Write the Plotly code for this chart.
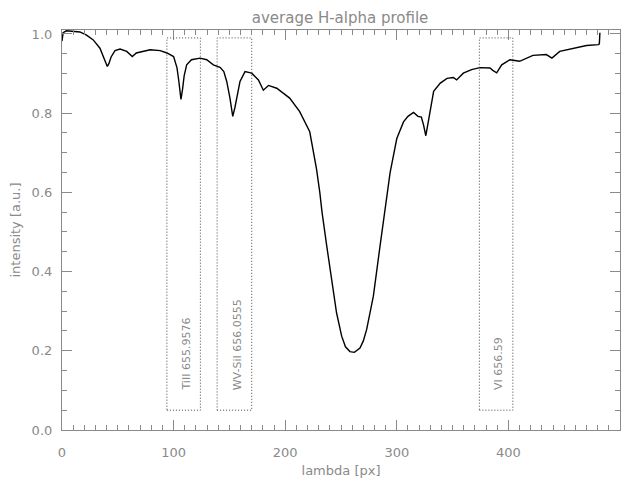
import plotly.graph_objects as go

# spectrum
lambda_px = [0, 1, 4, 10, 16, 22, 28, 34, 37.6, 40.6, 42, 44, 47.5, 52, 58, 63, 66.6, 72, 79, 88,
             94, 100, 103, 104.5, 106.6, 108, 109.5, 111.7, 116, 123.7, 129.7, 135.6, 141.6, 145,
             147.6, 150.5, 153, 155, 156.5, 159.5, 164, 170, 176, 180.4, 185, 192.4, 204, 213, 222,
             228, 231, 233, 237.2, 241.7, 246, 250.6, 254, 258, 262, 267, 270, 273, 279, 285, 289.4,
             294, 300, 306, 310, 315, 319, 322, 324, 326, 328, 330, 333, 339, 345, 350.6, 353.6,
             359.6, 367, 374.5, 383.5, 386, 389.5, 394, 401.4, 410, 422, 434, 439, 446, 458, 470,
             480.6, 481.5, 482]
intensity = [0.982, 1.003, 1.008, 1.007, 1.005, 0.997, 0.985, 0.964, 0.940, 0.918, 0.925, 0.942,
             0.958, 0.962, 0.956, 0.943, 0.952, 0.956, 0.960, 0.958,
             0.952, 0.943, 0.915, 0.885, 0.835, 0.860, 0.895, 0.922, 0.935, 0.939, 0.935, 0.922,
             0.916, 0.905, 0.880, 0.838, 0.792, 0.815, 0.838, 0.880, 0.905, 0.901, 0.884, 0.858,
             0.870, 0.863, 0.838, 0.804, 0.753, 0.660, 0.600, 0.550, 0.465, 0.381, 0.296, 0.237,
             0.210, 0.198, 0.196, 0.207, 0.225, 0.254, 0.338, 0.465, 0.550, 0.650, 0.736, 0.778,
             0.792, 0.802, 0.792, 0.790, 0.770, 0.743, 0.775, 0.812, 0.855, 0.876, 0.888, 0.890,
             0.884, 0.901, 0.910, 0.915, 0.914, 0.908, 0.902, 0.922, 0.935, 0.931, 0.946, 0.948,
             0.939, 0.956, 0.964, 0.971, 0.973, 0.975, 1.003]

# line-identification windows
box_x0 = [94, 139, 374]
box_x1 = [124, 170, 404]
box_y0 = 0.05
box_y1 = 0.99
box_labels = ["TiII 655.9576", "WV-SiI 656.0555", "VI 656.59"]
label_y = 0.095

x_ticks = [0, 100, 200, 300, 400, 500]
y_ticks = [0.0, 0.2, 0.4, 0.6, 0.8, 1.0]

GRAY = "#8a8a8a"
FONT = "DejaVu Sans"

fig = go.Figure()
fig.add_trace(go.Scatter(x=lambda_px, y=intensity, mode="lines",
                         line=dict(color="black", width=1.4), showlegend=False))

for x0, x1, lab in zip(box_x0, box_x1, box_labels):
    fig.add_shape(type="rect", xref="x", yref="y", x0=x0, x1=x1, y0=box_y0, y1=box_y1,
                  line=dict(color="#444444", width=1, dash="1px,2px"))
    fig.add_annotation(x=(x0 + x1) / 2, y=label_y, xref="x", yref="y", text=lab,
                       textangle=-90, showarrow=False, yanchor="bottom", xanchor="center",
                       xshift=3, font=dict(family=FONT, size=11, color=GRAY))

axis_common = dict(showgrid=False, zeroline=False, showline=True, linecolor=GRAY, linewidth=1.2,
                   ticks="inside", tickcolor=GRAY, tickwidth=1, mirror="allticks",
                   tickfont=dict(family=FONT, size=13, color=GRAY))

fig.update_xaxes(range=[0, 500], tickvals=x_ticks, ticklen=10,
                 minor=dict(ticks="inside", ticklen=5, dtick=10, tickcolor=GRAY),
                 title=dict(text="lambda [px]", font=dict(family=FONT, size=13, color=GRAY), standoff=7),
                 ticklabelstandoff=10, **axis_common)
fig.update_yaxes(range=[0, 1.01], tickvals=y_ticks, tickformat=".1f", ticklen=10,
                 minor=dict(ticks="inside", ticklen=5, dtick=0.05, tickcolor=GRAY),
                 title=dict(text="intensity [a.u.]", font=dict(family=FONT, size=13, color=GRAY), standoff=8),
                 ticklabelstandoff=6, **axis_common)

# the page adds an 8 px body margin, so the figure is sized to fit the window with it
fig.update_layout(
    width=616, height=470,
    margin=dict(l=54, r=4, t=22, b=48, autoexpand=False),
    paper_bgcolor="white", plot_bgcolor="white",
    title=dict(text="average H-alpha profile", x=0.539, xanchor="center",
               y=1 - 9.5 / 470, yanchor="middle",
               font=dict(family=FONT, size=15, color=GRAY)),
)

fig.write_html("out.html")
